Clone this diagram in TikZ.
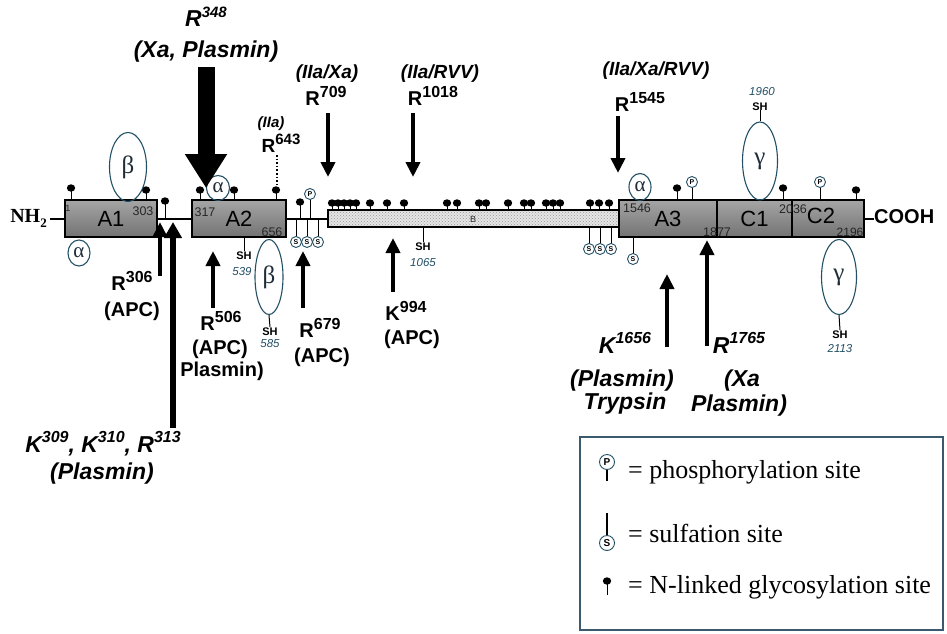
\documentclass[tikz,border=0pt]{standalone}
\usepackage{fontspec}
\setmainfont{Liberation Sans}
\newfontfamily\seriffam{Liberation Serif}
\usetikzlibrary{arrows.meta,patterns,shapes.geometric}
\definecolor{tealc}{RGB}{35,80,100}
\definecolor{greekc}{RGB}{30,45,55}
\definecolor{boxlt}{RGB}{165,165,165}
\definecolor{boxdk}{RGB}{115,115,115}
\definecolor{legc}{RGB}{60,90,110}
\newcommand\tsup[2][16]{\raisebox{0.40em}{\fontsize{#1}{#1}\selectfont #2}}
\newcommand\glydot[3]{\draw[stick] (#1,#2) -- (#1,#3); \fill (#1,#2) ellipse [x radius=4.2pt, y radius=3.7pt];}
\newcommand\phosite[4]{\draw[stick] (#2,#3) -- (#2,#4); \node[circP] (#1) at (#2,#3) {P};}
\newcommand\sulsite[4]{\draw[stick] (#2,#3) -- (#2,#4); \node[circP] (#1) at (#2,#3) {S};}
\begin{document}
\begin{tikzpicture}[x=1pt,y=-1pt,
 lblI/.style={font=\fontsize{23}{26}\selectfont\bfseries\itshape, inner sep=0pt, anchor=base},
 lblT/.style={font=\fontsize{19}{22}\selectfont\bfseries\itshape, inner sep=0pt, anchor=base},
 lblB/.style={font=\fontsize{20}{24}\selectfont\bfseries, inner sep=0pt, anchor=base},
 shlbl/.style={font=\fontsize{11}{11}\selectfont\bfseries, inner sep=0pt, anchor=base},
 numI/.style={font=\fontsize{11.5}{11.5}\selectfont\itshape, text=tealc, inner sep=0pt, anchor=base},
 numB/.style={font=\fontsize{12.5}{12.5}\selectfont, text=black!85, inner sep=0pt},
 domlbl/.style={font=\fontsize{22}{22}\selectfont, inner sep=0pt},
 dom/.style={rectangle, draw=black, line width=1.4pt, top color=boxlt, bottom color=boxdk, minimum height=37pt, inner sep=0pt, font=\fontsize{22}{22}\selectfont},
 bstrip/.style={rectangle, draw=black, line width=1.2pt, preaction={fill=black!10}, pattern=crosshatch dots, pattern color=black!40, minimum width=291pt, minimum height=17pt, inner sep=0pt},
 arr/.style={line width=3.8pt, -{Triangle[length=15pt,width=14pt]}},
 bigarr/.style={line width=17pt, -{Triangle[length=34pt,width=40pt]}},
 midarr/.style={line width=6pt, -{Triangle[length=16pt,width=17pt]}},
 stick/.style={line width=1pt},
 backbone/.style={line width=2pt},
 ell/.style={ellipse, draw=tealc, line width=1.1pt, inner sep=0pt, text=greekc, font=\seriffam\fontsize{25}{25}\selectfont},
 ella/.style={ell, font=\seriffam\fontsize{21}{21}\selectfont},
 circP/.style={circle, draw=tealc, line width=0.9pt, fill=white, inner sep=0pt, minimum size=11pt, font=\fontsize{7}{7}\selectfont\bfseries},
 legtxt/.style={font=\seriffam\fontsize{26}{26}\selectfont, anchor=base west, inner sep=0pt}]
\fill[white] (0,0) rectangle (947,634);
\useasboundingbox (0,0) rectangle (947,634);

% ---------- domains ----------
\coordinate (nhend) at (50,218.5);
\node[font=\seriffam\bfseries\fontsize{20}{20}\selectfont, anchor=base east, inner sep=0pt] (nh) at (47,222) {NH\raisebox{-0.25em}{\fontsize{13}{13}\selectfont 2}};
\node[font=\bfseries\fontsize{20}{20}\selectfont, anchor=base west, inner sep=0pt] (cooh) at (874,223) {COOH};

\node[dom, minimum width=92pt] (A1) at (111,218.5) {A1};
\node[dom, minimum width=94pt] (A2) at (239,218.5) {A2};
\node[bstrip] (B) at (473.5,218.5) {};
\node[dom, minimum width=98pt] (A3) at (668,218.5) {A3};
\node[dom, minimum width=75pt] (C1) at (754.5,218.5) {C1};
\node[dom, minimum width=72pt] (C2) at (828,218.5) {};
\node[domlbl] (C2lbl) at (821,216) {C2};
\draw[backbone] (nhend) -- (A1.west);
\draw[backbone] (A1.east) -- (A2.west);
\draw[backbone] (A2.east) -- (B.west);
\draw[backbone] (C2.east) -- (C2.east -| cooh.west);
\node[numB, font=\fontsize{9}{9}\selectfont] (Blbl) at (473,219) {B};

% numbers inside boxes
\node[numB, font=\fontsize{9}{9}\selectfont] (n1) at (68,208) {1};
\node[numB] (n303) at (143,211) {303};
\node[numB] (n317) at (205,212) {317};
\node[numB] (n656) at (272,232) {656};
\node[numB] (n1546) at (637,208) {1546};
\node[numB] (n1877) at (717,232) {1877};
\node[numB] (n2036) at (793,209) {2036};
\node[numB, font=\fontsize{12}{12}\selectfont] (n2196) at (850,232) {2196};

% ---------- glycosylation ----------
\glydot{71}{188}{200}
\glydot{146}{190}{200}
\glydot{165}{201}{218.5}
\glydot{200}{190}{200}
\glydot{234}{190}{200}
\glydot{276}{190}{200}
\glydot{300}{202}{218.5}
\foreach \gx in {332,338,344,350,356,370,387,404,447,457,479,486,508,524,531,546,553,560,590,599,609} {\glydot{\gx}{203}{210}}
\glydot{677}{188}{200}
\glydot{783}{188}{200}
\glydot{856}{190}{200}

% ---------- phosphorylation / sulfation ----------
\phosite{p1}{310}{194}{218.5}
\phosite{p2}{692}{182}{200}
\phosite{p3}{820}{182}{200}
\sulsite{s1}{296}{242}{218.5}
\sulsite{s2}{307}{242}{218.5}
\sulsite{s3}{318}{242}{218.5}
\sulsite{s4}{589}{249}{227}
\sulsite{s5}{600}{249}{227}
\sulsite{s6}{611}{249}{227}
\sulsite{s7}{633}{259}{237}

% ---------- ellipses ----------
\node[ell, minimum width=37pt, minimum height=69pt] (bA1) at (128,167) {β};
\node[ella, minimum width=22pt, minimum height=26pt] (aA1) at (79,253) {α};
\node[ella, minimum width=23pt, minimum height=25pt] (aA2) at (218,188) {α};
\node[ell, minimum width=28pt, minimum height=75pt] (bA2) at (269,277) {β};
\node[ella, minimum width=22pt, minimum height=27pt] (aA3) at (640,187) {α};
\node[ell, minimum width=35pt, minimum height=78pt] (gC1) at (760,161) {γ};
\node[ell, minimum width=35pt, minimum height=75pt] (gC2) at (839,277) {γ};

% ---------- SH sites ----------
\node[shlbl] (sh539) at (244,259) {SH};
\node[numI] (n539) at (242,275) {539};
\draw[stick] (sh539.north |- A2.south) -- (sh539.north);
\node[shlbl] (sh585) at (270,335) {SH};
\node[numI] (n585) at (270,347) {585};
\draw[stick] (bA2.south) -- (sh585.north);
\node[shlbl] (sh1065) at (423,250) {SH};
\node[numI] (n1065) at (423,266) {1065};
\draw[stick] (sh1065.north |- B.south) -- (sh1065.north);
\node[shlbl] (sh1960) at (760,110) {SH};
\node[numI] (n1960) at (762,95) {1960};
\draw[stick] (sh1960.south) -- (gC1.north);
\node[shlbl] (sh2113) at (840,338) {SH};
\node[numI] (n2113) at (840,352) {2113};
\draw[stick] (gC2.south) -- (sh2113.north);

% ---------- top labels and arrows ----------
\node[lblI] (r348) at (206,27) {R\tsup[15]{348}};
\node[lblI] (xapl) at (206,58) {(Xa, Plasmin)};
\coordinate (a348s) at (206,67);
\coordinate (a348e) at (206,188);
\draw[bigarr] (a348s) -- (a348e);

\node[lblT, font=\fontsize{15}{15}\selectfont\bfseries\itshape] (iia) at (271,127) {(IIa)};
\node[lblB, font=\fontsize{19}{19}\selectfont\bfseries] (r643) at (281,152) {R\tsup[15]{643}};
\coordinate (a643s) at (277,155);
\coordinate (a643e) at (277,186);
\draw[line width=1.6pt, dotted] (a643s) -- (a643e);

\node[lblT] (iiaxa) at (327,78) {(IIa/Xa)};
\node[lblB] (r709) at (326,105) {R\tsup{709}};
\coordinate (a709s) at (328,113);
\coordinate (a709e) at (328,177);
\draw[arr] (a709s) -- (a709e);

\node[lblT] (iiarvv) at (440,78) {(IIa/RVV)};
\node[lblB] (r1018) at (433,105) {R\tsup{1018}};
\coordinate (a1018s) at (413,113);
\coordinate (a1018e) at (413,177);
\draw[arr] (a1018s) -- (a1018e);

\node[lblT] (iiaxarvv) at (656,75) {(IIa/Xa/RVV)};
\node[lblB] (r1545) at (640,111) {R\tsup{1545}};
\coordinate (a1545s) at (618,116);
\coordinate (a1545e) at (618,173);
\draw[arr] (a1545s) -- (a1545e);

% ---------- bottom labels and arrows ----------
\node[lblB] (r306) at (132,290) {R\tsup{306}};
\node[lblB] (apc306) at (132,316) {(APC)};
\coordinate (a306s) at (160,276);
\coordinate (a306e) at (160,222);
\draw[arr] (a306s) -- (a306e);

\node[lblI] (k309) at (103,452) {K\tsup{309}, K\tsup{310}, R\tsup{313}};
\node[lblI] (pl309) at (102,479) {(Plasmin)};
\coordinate (a309s) at (173,428);
\coordinate (a309e) at (173,222);
\draw[midarr] (a309s) -- (a309e);

\node[lblB] (r506) at (221,330) {R\tsup{506}};
\node[lblB] (apc506) at (220,354) {(APC)};
\node[lblB] (pl506) at (222,376) {Plasmin)};
\coordinate (a506s) at (213,308);
\coordinate (a506e) at (213,251);
\draw[arr] (a506s) -- (a506e);

\node[lblB] (r679) at (320,337) {R\tsup{679}};
\node[lblB] (apc679) at (322,362) {(APC)};
\coordinate (a679s) at (303,308);
\coordinate (a679e) at (303,251);
\draw[arr] (a679s) -- (a679e);

\node[lblB] (k994) at (406,320) {K\tsup{994}};
\node[lblB] (apc994) at (412,344) {(APC)};
\coordinate (a994s) at (393,292);
\coordinate (a994e) at (393,238);
\draw[arr] (a994s) -- (a994e);

\node[lblI] (k1656) at (625,353) {K\tsup{1656}};
\node[lblI] (pl1656) at (622,386) {(Plasmin)};
\node[lblI] (tryp) at (625,409) {Trypsin};
\coordinate (a1656s) at (667,347);
\coordinate (a1656e) at (667,274);
\draw[arr] (a1656s) -- (a1656e);

\node[lblI] (r1765) at (739,353) {R\tsup{1765}};
\node[lblI] (xa1765) at (742,386) {(Xa};
\node[lblI] (pl1765) at (739,411) {Plasmin)};
\coordinate (a1765s) at (707,346);
\coordinate (a1765e) at (707,240);
\draw[arr] (a1765s) -- (a1765e);

% ---------- legend ----------
\node[draw=legc, line width=1.6pt, minimum width=363pt, minimum height=193pt, inner sep=0pt] (legend) at (761.5,533.5) {};
\node[circP, minimum size=15pt, font=\fontsize{10}{10}\selectfont\bfseries] (lp) at (607,462) {P};
\coordinate (lpe) at (607,481);
\draw[stick, line width=1.3pt] (lp.south) -- (lpe);
\node[legtxt] (tp) at (628,478) {= phosphorylation site};
\node[circP, minimum size=15pt, font=\fontsize{10}{10}\selectfont\bfseries] (ls) at (607,543) {S};
\coordinate (lse) at (607,513);
\draw[stick, line width=1.3pt] (lse) -- (ls.north);
\node[legtxt] (ts) at (628,542) {= sulfation site};
\coordinate (lge) at (607,595);
\glydot{607}{581}{595}
\node[legtxt] (tg) at (628,593) {= N-linked glycosylation site};
\end{tikzpicture}
\end{document}
